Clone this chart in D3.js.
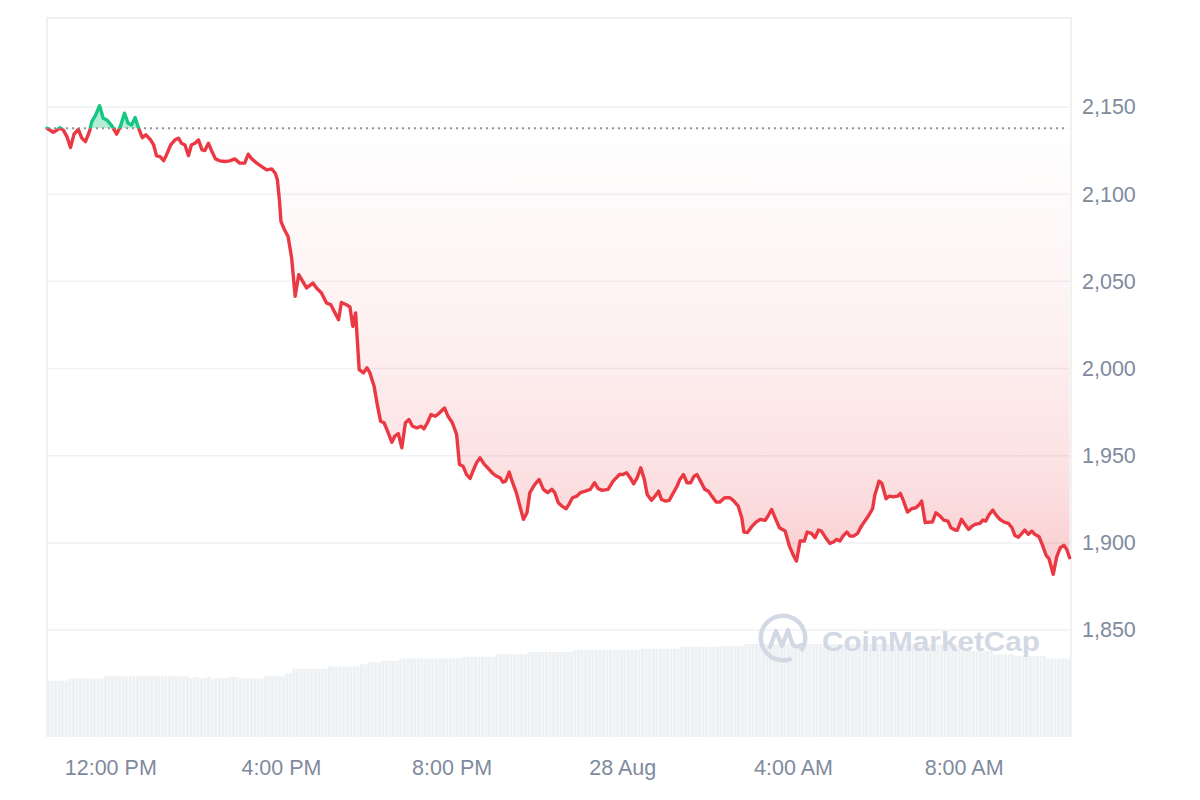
<!DOCTYPE html>
<html>
<head>
<meta charset="utf-8">
<script src="https://cdn.jsdelivr.net/npm/d3@7"></script>
<style>
  html, body { margin: 0; padding: 0; background: #ffffff; }
  svg { display: block; font-family: "Liberation Sans", Arial, Helvetica, sans-serif; }
</style>
</head>
<body>
<svg id="chart" width="1200" height="800"></svg>
<script>
// ---------------- DATA ----------------
const startTime = new Date(2023, 7, 27, 10, 31);   // 27 Aug, 10:31
const endTime   = new Date(2023, 7, 28, 10, 31);   // 28 Aug, 10:31
const openPrice = 2137.8;

// minutes after startTime
const priceMinutes = [
  0,9,14,18,23,28,33,38,44,49,
  54,60,63,68,74,79,84,91,98,103,
  109,114,119,124,128,134,139,145,150,154,
  159,164,168,174,180,185,189,194,199,203,
  208,213,218,222,227,232,237,243,250,257,
  264,271,278,283,288,295,302,309,316,321,
  324,327,329,334,339,344,349,354,365,374,
  379,386,393,399,405,410,414,421,426,430,
  434,439,445,450,454,460,464,469,474,479,
  485,489,494,499,504,509,514,520,526,530,
  535,540,546,552,559,564,570,576,580,585,
  590,595,600,604,609,615,621,627,632,637,
  641,645,650,654,660,665,670,675,679,686,
  692,698,704,710,714,719,724,730,734,739,
  745,750,757,764,770,775,781,789,796,805,
  810,815,820,825,830,835,840,844,850,855,
  860,864,870,875,881,886,890,895,900,905,
  910,914,919,925,930,935,941,946,953,960,
  965,972,977,980,985,991,997,1003,1010,1014,
  1019,1024,1030,1038,1044,1050,1054,1059,1065,1069,
  1075,1080,1085,1089,1095,1101,1106,1110,1115,1120,
  1125,1129,1134,1140,1144,1149,1155,1161,1164,1170,
  1174,1180,1184,1190,1196,1200,1204,1210,1216,1222,
  1227,1230,1235,1241,1245,1250,1256,1261,1267,1271,
  1277,1280,1286,1291,1296,1300,1305,1312,1316,1320,
  1325,1330,1335,1340,1346,1352,1357,1361,1366,1371,
  1375,1380,1385,1389,1395,1400,1405,1409,1415,1420,
  1425,1430,1434,1438
];

const prices = [
  2137.8,2135.5,2136.7,2138.1,2136.7,2133.0,2126.7,2134.4,2137.2,2132.1,
  2130.1,2136.3,2141.6,2145.0,2150.7,2143.5,2142.6,2139.3,2134.4,2138.7,
  2146.4,2140.7,2139.7,2143.9,2138.7,2132.4,2134.0,2131.5,2128.2,2121.9,
  2121.5,2119.2,2122.5,2128.2,2131.1,2132.1,2129.2,2128.2,2122.1,2128.2,
  2129.2,2131.1,2125.4,2125.0,2129.2,2124.4,2120.2,2119.1,2118.7,2119.1,
  2120.2,2117.8,2117.8,2122.9,2120.2,2117.8,2115.8,2113.9,2114.5,2112.0,
  2108.2,2095.8,2084.3,2079.6,2075.7,2063.4,2041.4,2053.8,2046.2,2049.0,
  2046.2,2043.3,2037.6,2036.6,2031.9,2028.0,2037.9,2036.6,2035.3,2024.2,
  2031.9,1999.4,1997.5,2000.4,1997.5,1989.8,1980.3,1969.8,1968.9,1964.0,
  1957.7,1961.2,1962.7,1954.5,1968.9,1970.7,1966.9,1966.0,1966.9,1965.4,
  1968.9,1973.6,1972.6,1974.6,1977.4,1972.6,1968.9,1962.2,1945.0,1944.0,
  1939.2,1937.0,1942.1,1945.9,1948.8,1945.0,1942.5,1939.8,1938.3,1937.4,
  1934.8,1935.4,1940.6,1935.4,1928.8,1921.1,1913.5,1917.3,1928.8,1933.5,
  1936.4,1930.7,1928.8,1930.7,1928.8,1923.0,1921.1,1919.6,1922.1,1925.9,
  1926.8,1928.8,1929.7,1930.7,1934.5,1931.1,1930.1,1930.7,1935.4,1939.2,
  1939.2,1940.2,1937.4,1933.9,1937.4,1943.1,1936.4,1927.8,1924.4,1926.8,
  1929.7,1924.9,1924.0,1924.4,1928.8,1932.5,1936.4,1939.2,1934.5,1934.5,
  1938.3,1939.2,1935.4,1930.7,1929.7,1926.8,1923.4,1923.4,1925.9,1925.9,
  1924.4,1921.1,1914.4,1906.2,1905.9,1909.3,1911.9,1913.5,1912.9,1915.4,
  1919.2,1914.4,1908.7,1906.8,1898.2,1892.5,1889.6,1901.1,1901.1,1906.2,
  1905.5,1903.0,1907.4,1906.8,1903.0,1899.7,1900.5,1902.0,1901.1,1904.3,
  1906.2,1903.9,1903.9,1905.5,1908.7,1911.9,1915.4,1919.6,1927.2,1935.4,
  1934.1,1925.3,1926.8,1926.5,1926.8,1928.4,1924.5,1917.7,1919.6,1920.2,
  1922.1,1924.0,1911.6,1911.9,1911.9,1917.3,1915.4,1913.1,1912.5,1908.7,
  1907.4,1907.2,1913.5,1910.6,1907.7,1909.3,1910.6,1911.2,1913.1,1912.5,
  1916.3,1918.8,1915.8,1913.5,1911.9,1911.2,1908.7,1904.3,1903.3,1905.5,
  1907.4,1904.9,1906.8,1904.9,1903.6,1898.6,1892.9,1891.0,1882.0,1892.1,
  1897.3,1898.6,1896.3,1891.5
];

// 5-minute volume bars (relative units)
const volumes = [
  56.3,56.3,56.3,56.3,56.3,56.3,
  58.5,58.5,58.5,58.5,58.5,58.5,58.5,58.5,58.5,58.5,
  60.7,60.7,60.7,60.7,60.7,60.7,60.7,60.7,60.7,60.7,60.7,60.7,
  60.7,60.7,60.7,60.7,60.7,60.7,60.7,60.7,60.7,60.7,60.7,60.7,
  58.5,59.5,60,58.5,59,60.5,58.5,58.5,59.5,59,59,60,60,60,59,58.5,
  58.5,58.5,58.5,58.5,58.5,
  60.7,60.7,60.7,60.7,60.7,60.7,
  63.7,63.7,
  68.3,68.3,68.3,68.3,68.3,68.3,68.3,68.3,68.3,68.3,
  70.7,70.7,70.7,70.7,70.7,70.7,70.7,70.7,70.7,
  72.7,72.7,
  74.7,74.7,74.7,74.7,
  76.3,76.3,76.3,76.3,76.3,
  78.7,78.7,78.7,78.7,78.7,78.7,78.7,78.7,78.7,78.7,78.7,78.7,78.7,78.7,78.7,78.7,78.7,78.7,
  80.3,80.3,80.3,80.3,80.3,80.3,80.3,80.3,80.3,
  82.7,82.7,82.7,82.7,82.7,82.7,82.7,82.7,82.7,
  85,85,85,85,85,85,85,85,85,85,85,85,85,
  87,87,87,87,87,87,87,87,87,87,87,87,87,87,87,87,87,87,87,
  88.3,88.3,88.3,88.3,88.3,88.3,88.3,88.3,88.3,88.3,88.3,
  90.3,90.3,90.3,90.3,90.3,90.3,90.3,90.3,90.3,90.3,90.3,90.3,
  91,91,91,91,91,91,
  93,93,93,93,93,93,93,93,93,93,93,93,93,93,93,93,93,93,93,93,
  93,93,93,93,93,93,93,93,93,93,93,93,93,93,93,93,93,93,93,93,
  92.5,92.5,92.5,92.5,92.5,92.5,92.5,92.5,92.5,92.5,92.5,92.5,92.5,92.5,92.5,92.5,92.5,92.5,92.5,92.5,92.5,
  86,86,86,86,86,86,86,86,86,
  82.7,82.7,82.7,82.7,82.7,82.7,
  81,81,81,81,81,81,81,81,81,
  78.7,78.7,78.7,78.7,78.7,78.7,78.7
];

const yTicks = [1850, 1900, 1950, 2000, 2050, 2100, 2150];
const xTickTimes = [
  new Date(2023, 7, 27, 12, 0), new Date(2023, 7, 27, 16, 0), new Date(2023, 7, 27, 20, 0),
  new Date(2023, 7, 28, 0, 0),  new Date(2023, 7, 28, 4, 0),  new Date(2023, 7, 28, 8, 0)
];
const xTickLabels = ["12:00 PM", "4:00 PM", "8:00 PM", "28 Aug", "4:00 AM", "8:00 AM"];

// ---------------- CHART ----------------
const L = 47, R = 1071, T = 18, B = 737;
const svg = d3.select("#chart");

const x = d3.scaleTime([startTime, endTime], [L, R]);
const y = d3.scaleLinear([1788.7, 2201], [B, T]);
const yv = d3.scaleLinear([0, 100], [B, B - 100]);
const xb = d3.scaleBand(d3.range(volumes.length), [L, R]).paddingInner(0.14);

const data = prices.map((v, i) => ({ t: new Date(+startTime + priceMinutes[i] * 60000), v }));
const yBase = y(openPrice);
const yMin = y(d3.min(prices));

const defs = svg.append("defs");
defs.append("clipPath").attr("id", "clipUp")
  .append("rect").attr("x", L - 3).attr("y", T - 5).attr("width", R - L + 6).attr("height", yBase - T + 5);
defs.append("clipPath").attr("id", "clipDown")
  .append("rect").attr("x", L - 3).attr("y", yBase).attr("width", R - L + 6).attr("height", B - yBase);

const grad = defs.append("linearGradient").attr("id", "redGrad")
  .attr("gradientUnits", "userSpaceOnUse")
  .attr("x1", 0).attr("x2", 0).attr("y1", yBase).attr("y2", yMin);
grad.append("stop").attr("offset", "0%").attr("stop-color", "#ea3943").attr("stop-opacity", 0.0);
grad.append("stop").attr("offset", "45%").attr("stop-color", "#ea3943").attr("stop-opacity", 0.07);
grad.append("stop").attr("offset", "80%").attr("stop-color", "#ea3943").attr("stop-opacity", 0.16);
grad.append("stop").attr("offset", "100%").attr("stop-color", "#ea3943").attr("stop-opacity", 0.26);

// grid
svg.append("g").selectAll("line").data(yTicks).join("line")
  .attr("x1", L).attr("x2", R)
  .attr("y1", d => y(d)).attr("y2", d => y(d))
  .attr("stroke", "#eff1f4").attr("stroke-width", 1.5);

// frame
svg.append("path")
  .attr("d", `M${L},${B}V${T}H${R}V${B}`)
  .attr("fill", "none").attr("stroke", "#eff1f4").attr("stroke-width", 2);

// volume bars
svg.append("g").selectAll("rect").data(volumes).join("rect")
  .attr("x", (d, i) => xb(i))
  .attr("width", xb.bandwidth())
  .attr("y", d => yv(d))
  .attr("height", d => B - yv(d))
  .attr("fill", "#eef1f4");

// watermark
const wm = svg.append("g").attr("transform", "translate(783,638)");
wm.append("path")
  .attr("d", d3.arc()({ innerRadius: 20, outerRadius: 24.5, startAngle: 2.75, endAngle: 2.75 + 2 * Math.PI - 0.55 }))
  .attr("fill", "#d3d9e4");
wm.append("path")
  .attr("d", "M-13,9 L-7,-7 L-1,8 L5,-8 L9,5 Q12,11 18,7")
  .attr("fill", "none").attr("stroke", "#d3d9e4").attr("stroke-width", 4.2)
  .attr("stroke-linecap", "round").attr("stroke-linejoin", "round");
svg.append("text")
  .attr("x", 822).attr("y", 651)
  .attr("font-size", 28).attr("font-weight", 700)
  .attr("textLength", 218).attr("lengthAdjust", "spacingAndGlyphs")
  .attr("fill", "#d3d9e4")
  .text("CoinMarketCap");

// areas
const area = d3.area().x(d => x(d.t)).y0(yBase).y1(d => y(d.v));
svg.append("path").datum(data).attr("d", area)
  .attr("fill", "url(#redGrad)").attr("clip-path", "url(#clipDown)");
svg.append("path").datum(data).attr("d", area)
  .attr("fill", "#16c784").attr("fill-opacity", 0.32).attr("clip-path", "url(#clipUp)");

// baseline
svg.append("line")
  .attr("x1", L + 1).attr("x2", R - 6).attr("y1", yBase).attr("y2", yBase)
  .attr("stroke", "#8e939c").attr("stroke-width", 2).attr("stroke-dasharray", "2,4");

// price line
const line = d3.line().x(d => x(d.t)).y(d => y(d.v));
svg.append("path").datum(data).attr("d", line)
  .attr("fill", "none").attr("stroke", "#ea3943").attr("stroke-width", 3.4)
  .attr("stroke-linejoin", "round").attr("stroke-linecap", "round")
  .attr("clip-path", "url(#clipDown)");
svg.append("path").datum(data).attr("d", line)
  .attr("fill", "none").attr("stroke", "#16c784").attr("stroke-width", 3.4)
  .attr("stroke-linejoin", "round").attr("stroke-linecap", "round")
  .attr("clip-path", "url(#clipUp)");

// axes
const xAxis = d3.axisBottom(x).tickValues(xTickTimes)
  .tickFormat((d, i) => xTickLabels[i]).tickSize(0).tickPadding(23);
const gx = svg.append("g").attr("transform", `translate(0,${B})`).call(xAxis);
gx.select(".domain").remove();
gx.selectAll("text").attr("font-size", 21.5).attr("fill", "#808a9d")
  .attr("font-family", "'Liberation Sans', Arial, sans-serif");

const yAxis = d3.axisRight(y).tickValues(yTicks).tickFormat(d3.format(","))
  .tickSize(0).tickPadding(11);
const gy = svg.append("g").attr("transform", `translate(${R},0)`).call(yAxis);
gy.select(".domain").remove();
gy.selectAll("text").attr("font-size", 21.5).attr("fill", "#808a9d")
  .attr("font-family", "'Liberation Sans', Arial, sans-serif");
</script>
</body>
</html>
